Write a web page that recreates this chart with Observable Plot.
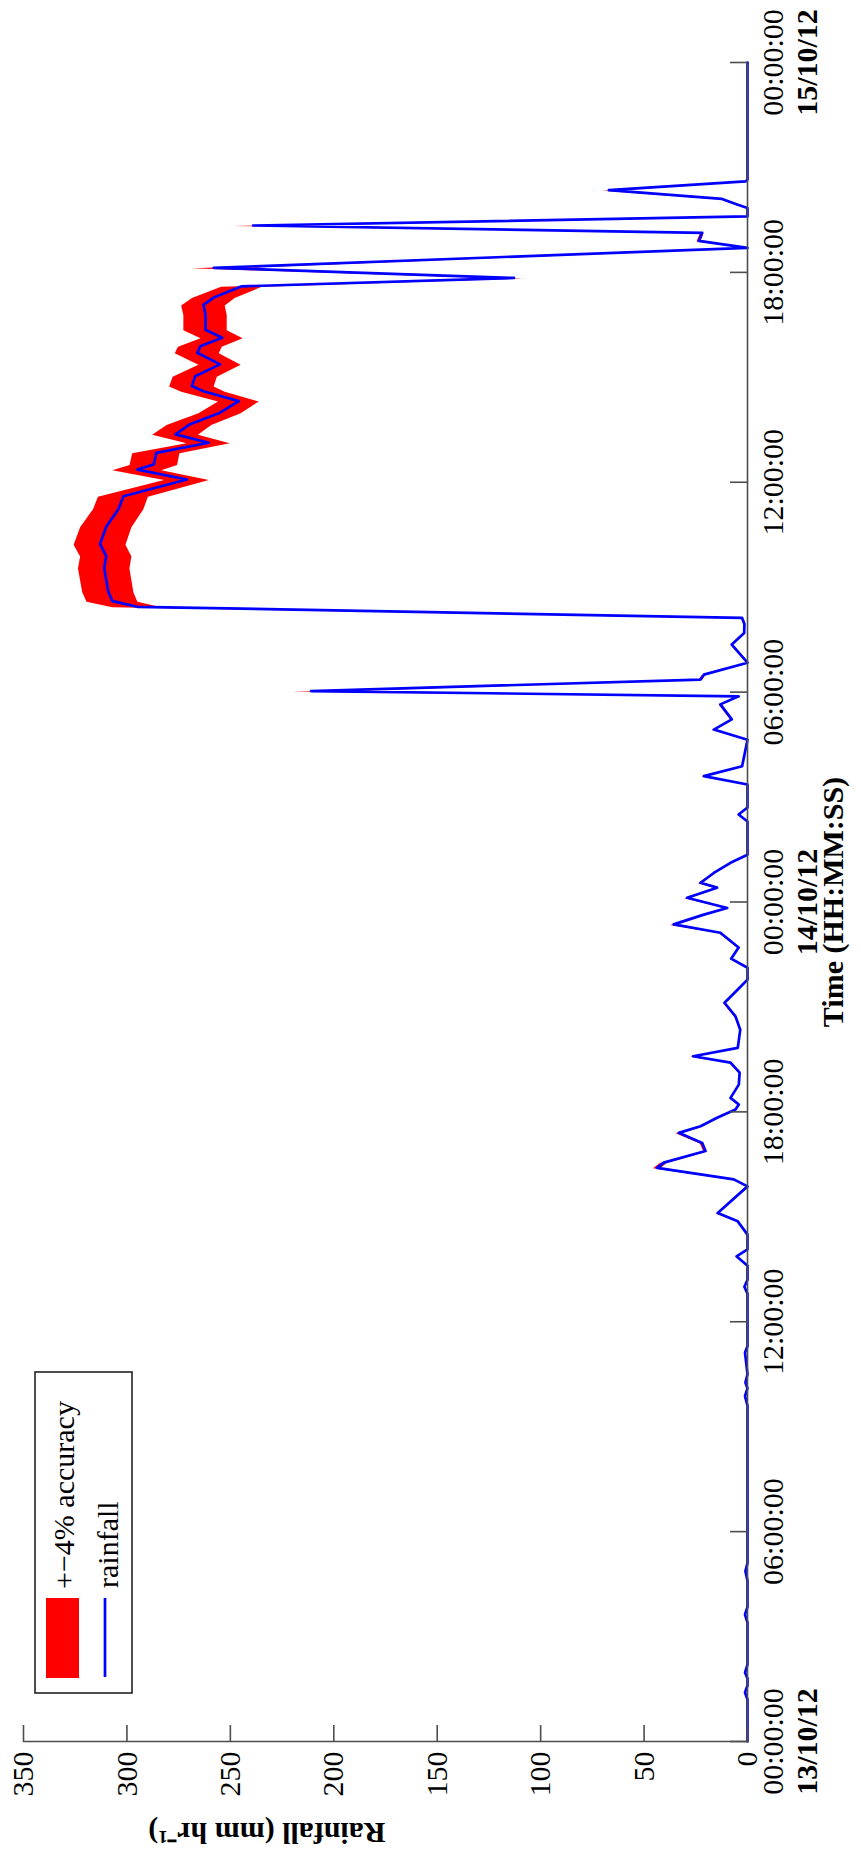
<!DOCTYPE html>
<html><head><meta charset="utf-8">
<script src="https://cdn.jsdelivr.net/npm/d3@7"></script>
<script src="https://cdn.jsdelivr.net/npm/@observablehq/plot@0.6"></script>
<style>
html,body{margin:0;padding:0;background:#fff;overflow:hidden;}
#stage{position:relative;width:861px;height:1857px;overflow:hidden;background:#fff;}
#fig{position:absolute;left:0;top:1857px;width:1857px;height:861px;transform-origin:0 0;transform:rotate(-90deg);background:#fff;}
#fig svg{position:absolute;left:0;top:0;}
</style></head><body>
<div id="stage"><div id="fig"></div></div>
<script>
// hours since 13/10/12 00:00:00
const hours = [
  0, 1.2, 1.4, 1.6, 1.8, 1.97, 2.2, 3.4, 3.63, 3.85, 4.6, 4.87, 5.1, 9.6, 9.87, 10.1, 10.26, 10.5, 11.12, 11.3,
  12.0, 12.8, 13.0, 13.2, 13.6, 13.87, 14.07, 14.49, 14.87, 15.11, 15.87, 16.07, 16.40, 16.55, 16.88, 17.11, 17.40,
  17.59, 17.83, 18.07, 18.21, 18.40, 18.78, 19.12, 19.41, 19.59, 19.83, 20.35, 20.73, 21.12, 21.50, 21.78, 22.12,
  22.38, 22.70, 23.12, 23.36, 23.64, 23.83, 24.12, 24.41, 24.55, 24.83, 25.12, 25.35, 26.3, 26.50, 26.7, 27.36,
  27.60, 27.88, 28.64, 28.93, 29.22, 29.65, 29.88, 30.03, 30.36, 30.50, 30.84, 31.36, 31.69, 31.95, 32.12,
  32.44, 32.60, 32.87, 33.21, 33.55, 33.89, 34.23, 34.73, 35.24, 35.60, 36.08, 36.36, 36.51, 36.84, 37.13, 37.37,
  37.65, 37.99, 38.32, 38.60, 38.75, 39.03, 39.37, 39.70, 39.89, 40.13, 40.36, 40.79, 41.07, 41.28, 41.60,
  41.84, 42.13, 42.70, 42.90, 43.13, 43.34, 43.60, 43.84, 43.94, 44.10, 44.35, 44.60, 44.65, 48
];
// rainfall (mm/hr)
const rainfall = [
  0, 0, 1.2, 0, 0, 1.2, 0, 0, 1.2, 0, 0, 1.0, 0, 0, 1.2, 0, 1.0, 0, 1.2, 0,
  0, 0, 1.5, 0, 0, 5.3, 0, 0, 4.7, 14.4, 0, 6.6, 43.7, 40.5, 20.3, 21.9, 33.2,
  22.7, 14.7, 5.8, 4.2, 8.2, 4.2, 3.8, 8.2, 26.3, 4.7, 3.5, 5.8, 11.1, 4.7, 0, 0,
  7.9, 4.3, 13.1, 35.7, 21.1, 9.8, 29.2, 14.7, 22.7, 16.3, 8.2, 0, 0, 4.3, 0, 0,
  21.1, 2.6, 0, 16.3, 7.6, 13.1, 4.3, 211, 22.7, 21.1, 0, 7.6, 1.6, 1.5, 2.6,
  295, 307, 309, 310, 311, 310, 313, 310, 304, 301.7, 271, 295, 287, 285.8, 260.5, 276.5,
  269.8, 255, 245.9, 263, 268.6, 267, 255, 266, 264.5, 254, 262, 262, 263, 258, 244.5,
  112.9, 258, 0, 23.5, 21.9, 239, 0, 0, 5, 12.3, 67, 1, 0, 0
];
const ACCURACY = 0.04;
const timeTickHours = [0, 6, 12, 18, 24, 30, 36, 42, 48];
const timeTickLabels = ["00:00:00","06:00:00","12:00:00","18:00:00","00:00:00","06:00:00","12:00:00","18:00:00","00:00:00"];
const dateTickHours = [0, 24, 48];
const dateTickLabels = ["13/10/12","14/10/12","15/10/12"];
const rainTicks = [0, 50, 100, 150, 200, 250, 300, 350];
const xTitle = "Time (HH:MM:SS)";
const yTitle = "Rainfall (mm hr\u207B\u00B9)";
const legendLabels = ["+\u22124% accuracy", "rainfall"];

const W = 1857, H = 861;
const mL = 115, mR = 63, mT = 23, mB = 114;
const plotW = W - mL - mR, plotH = H - mT - mB;
const t0 = Date.UTC(2012, 9, 13);
const toDate = h => new Date(t0 + h * 3600e3);
const data = hours.map((h, i) => ({t: toDate(h), r: rainfall[i], lo: rainfall[i] * (1 - ACCURACY), hi: rainfall[i] * (1 + ACCURACY)}));
const font = "'Liberation Serif', 'Times New Roman', Times, serif";
const FS = 30;
const axisColor = "#4d4d4d";
const txt = {fontFamily: font, fontSize: FS, fill: "black"};

const chart = Plot.plot({
  width: W, height: H,
  marginLeft: mL, marginRight: mR, marginTop: mT, marginBottom: mB,
  style: {fontFamily: font, fontSize: FS + "px", background: "white", color: "black", overflow: "visible"},
  x: {type: "utc", domain: [toDate(0), toDate(48)], axis: null},
  y: {domain: [0, 350], axis: null},
  marks: [
    Plot.areaY(data, {x: "t", y1: "lo", y2: "hi", fill: "#ff0000"}),
    Plot.line(data, {x: "t", y: "r", stroke: "#0000ff", strokeWidth: 2.7}),
    Plot.ruleY([0], {stroke: axisColor, strokeWidth: 1.6}),
    Plot.ruleX([toDate(0)], {stroke: axisColor, strokeWidth: 1.6}),
    Plot.ruleX(timeTickHours, {x: h => toDate(h), insetTop: plotH - 17, stroke: axisColor, strokeWidth: 1.6}),
    Plot.ruleY(rainTicks, {y: d => d, insetRight: plotW - 17, stroke: axisColor, strokeWidth: 1.6}),
    Plot.text(timeTickHours, {...txt, x: h => toDate(h), frameAnchor: "bottom", lineAnchor: "top", dy: 14, text: (h, i) => timeTickLabels[i]}),
    Plot.text(dateTickHours, {...txt, x: h => toDate(h), frameAnchor: "bottom", lineAnchor: "top", dy: 48, text: (h, i) => dateTickLabels[i], fontWeight: "bold"}),
    Plot.text(rainTicks, {...txt, y: d => d, frameAnchor: "left", textAnchor: "end", dx: -10, text: d => String(d)}),
    Plot.text([xTitle], {...txt, frameAnchor: "bottom", dy: 95, text: d => d, fontWeight: "bold"}),
    Plot.text([yTitle], {...txt, frameAnchor: "left", dx: -91, rotate: -90, text: d => d, fontWeight: "bold"})
  ]
});
const fig = document.getElementById("fig");
fig.appendChild(chart);

// legend (drawn in the unrotated frame)
const ns = "http://www.w3.org/2000/svg";
const leg = document.createElementNS(ns, "svg");
leg.setAttribute("width", 324); leg.setAttribute("height", 100);
leg.style.left = "163px"; leg.style.top = "34px"; leg.style.fontFamily = font; leg.style.fontSize = FS + "px";
leg.innerHTML = `
  <rect x="1" y="1" width="321" height="97" fill="white" stroke="#222" stroke-width="1.6"/>
  <rect x="16" y="12" width="80" height="33" fill="#ff0000"/>
  <line x1="17" x2="96" y1="71" y2="71" stroke="#0000ff" stroke-width="2.7"/>
  <text x="105" y="40" fill="black">${legendLabels[0]}</text>
  <text x="106" y="84" fill="black">${legendLabels[1]}</text>`;
fig.appendChild(leg);
</script>
</body></html>
